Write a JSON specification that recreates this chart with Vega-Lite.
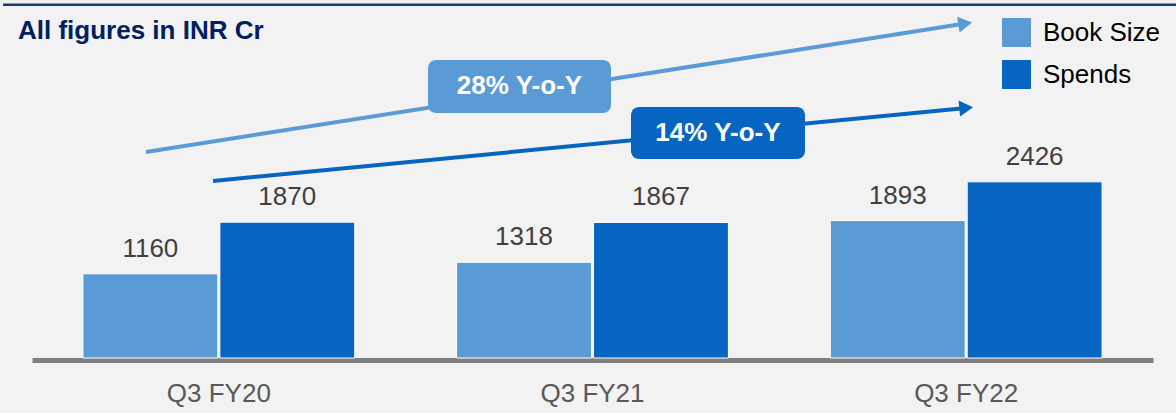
{
  "$schema": "https://vega.github.io/schema/vega-lite/v6.json",
  "width": 1121,
  "height": 358,
  "autosize": {"type": "none"},
  "padding": {"left": 32, "top": 0, "right": 23, "bottom": 55},
  "background": "#f2f2f2",
  "config": {"view": {"stroke": null}, "font": "Liberation Sans"},
  "datasets": {
    "bars": [
      {"quarter": "Q3 FY20", "series": "Book Size", "value": 1160},
      {"quarter": "Q3 FY20", "series": "Spends", "value": 1870},
      {"quarter": "Q3 FY21", "series": "Book Size", "value": 1318},
      {"quarter": "Q3 FY21", "series": "Spends", "value": 1867},
      {"quarter": "Q3 FY22", "series": "Book Size", "value": 1893},
      {"quarter": "Q3 FY22", "series": "Spends", "value": 2426}
    ],
    "arrows": [
      {"series": "Book Size", "pos": "start", "ax": 0.3051, "ay": 2837},
      {"series": "Book Size", "pos": "end", "ax": 2.4974, "ay": 4605},
      {"series": "Spends", "pos": "start", "ax": 0.4844, "ay": 2438},
      {"series": "Spends", "pos": "end", "ax": 2.5001, "ay": 3444}
    ],
    "boxes": [
      {"series": "Book Size", "label": "28% Y-o-Y", "x1": 1.0598, "x2": 1.5495, "y1": 3374, "y2": 4104, "cx": 1.3046, "cy": 3739},
      {"series": "Spends", "label": "14% Y-o-Y", "x1": 1.603, "x2": 2.0687, "y1": 2740, "y2": 3456, "cx": 1.8358, "cy": 3098}
    ],
    "notes": [
      {"label": "All figures in INR Cr", "ax": -0.0375, "ay": 4389, "rx1": -0.0776, "rx2": 3.0615, "ry": 4865}
    ]
  },
  "layer": [
    {
      "data": {"name": "bars"},
      "encoding": {
        "x": {
          "field": "quarter", "type": "nominal", "sort": null,
          "scale": {"paddingInner": 0, "paddingOuter": 0},
          "axis": {
            "title": null, "ticks": false, "labelAngle": 0,
            "domainColor": "#7f7f7f", "domainWidth": 5, "offset": 2,
            "labelPadding": 20, "labelFontSize": 26, "labelColor": "#595959",
            "labelFont": "Liberation Sans"
          }
        },
        "xOffset": {
          "field": "series", "type": "nominal", "sort": null,
          "scale": {"paddingInner": 0.015, "paddingOuter": 0.372}
        },
        "y": {
          "field": "value", "type": "quantitative",
          "scale": {"domain": [0, 4930], "nice": false},
          "axis": null
        },
        "color": {
          "field": "series", "type": "nominal",
          "scale": {"domain": ["Book Size", "Spends"], "range": ["#5b9bd5", "#0565c0"]},
          "legend": {
            "title": null, "orient": "none", "legendX": 970, "legendY": 18,
            "padding": 0, "symbolType": "square", "symbolSize": 784,
            "symbolStrokeColor": "white", "symbolStrokeWidth": 1, "symbolOpacity": 1,
            "labelFontSize": 26, "labelColor": "black", "labelFont": "Liberation Sans",
            "rowPadding": 9, "labelOffset": 12
          }
        }
      },
      "layer": [
        {"mark": {"type": "bar", "stroke": "white", "strokeWidth": 1}},
        {
          "mark": {"type": "text", "dy": -17, "baseline": "alphabetic", "fontSize": 26},
          "encoding": {
            "text": {"field": "value", "type": "quantitative", "format": "d"},
            "color": {"value": "#404040"}
          }
        }
      ]
    },
    {
      "layer": [
        {
          "data": {"name": "arrows"},
          "mark": {"type": "line", "strokeWidth": 4},
          "encoding": {
            "x": {"field": "ax", "type": "quantitative", "scale": {"domain": [0, 3], "nice": false, "zero": false}, "axis": null},
            "y": {"field": "ay", "type": "quantitative", "scale": {"domain": [0, 4930], "nice": false}, "axis": null},
            "color": {"field": "series", "type": "nominal", "legend": null}
          }
        },
        {
          "data": {"name": "arrows"},
          "transform": [{"filter": "datum.pos == 'end' && datum.series == 'Book Size'"}],
          "mark": {"type": "point", "shape": "triangle-right", "size": 256, "angle": -8.9, "filled": true, "opacity": 1},
          "encoding": {
            "x": {"field": "ax", "type": "quantitative", "scale": {"domain": [0, 3], "nice": false, "zero": false}, "axis": null},
            "y": {"field": "ay", "type": "quantitative", "scale": {"domain": [0, 4930], "nice": false}, "axis": null},
            "color": {"field": "series", "type": "nominal", "legend": null}
          }
        },
        {
          "data": {"name": "arrows"},
          "transform": [{"filter": "datum.pos == 'end' && datum.series == 'Spends'"}],
          "mark": {"type": "point", "shape": "triangle-right", "size": 256, "angle": -5.5, "filled": true, "opacity": 1},
          "encoding": {
            "x": {"field": "ax", "type": "quantitative", "scale": {"domain": [0, 3], "nice": false, "zero": false}, "axis": null},
            "y": {"field": "ay", "type": "quantitative", "scale": {"domain": [0, 4930], "nice": false}, "axis": null},
            "color": {"field": "series", "type": "nominal", "legend": null}
          }
        },
        {
          "data": {"name": "boxes"},
          "mark": {"type": "rect", "cornerRadius": 8},
          "encoding": {
            "x": {"field": "x1", "type": "quantitative", "scale": {"domain": [0, 3], "nice": false, "zero": false}, "axis": null},
            "x2": {"field": "x2"},
            "y": {"field": "y1", "type": "quantitative", "scale": {"domain": [0, 4930], "nice": false}, "axis": null},
            "y2": {"field": "y2"},
            "color": {"field": "series", "type": "nominal", "legend": null}
          }
        },
        {
          "data": {"name": "boxes"},
          "mark": {"type": "text", "fontSize": 26, "fontWeight": "bold", "color": "white", "baseline": "middle", "align": "center"},
          "encoding": {
            "x": {"field": "cx", "type": "quantitative", "scale": {"domain": [0, 3], "nice": false, "zero": false}, "axis": null},
            "y": {"field": "cy", "type": "quantitative", "scale": {"domain": [0, 4930], "nice": false}, "axis": null},
            "text": {"field": "label"}
          }
        },
        {
          "data": {"name": "notes"},
          "mark": {"type": "text", "fontSize": 26, "fontWeight": "bold", "color": "#002060", "baseline": "alphabetic", "align": "left"},
          "encoding": {
            "x": {"field": "ax", "type": "quantitative", "scale": {"domain": [0, 3], "nice": false, "zero": false}, "axis": null},
            "y": {"field": "ay", "type": "quantitative", "scale": {"domain": [0, 4930], "nice": false}, "axis": null},
            "text": {"field": "label"}
          }
        },
        {
          "data": {"name": "notes"},
          "mark": {"type": "rule", "strokeWidth": 2.5, "color": "#1f3b6e"},
          "encoding": {
            "x": {"field": "rx1", "type": "quantitative", "scale": {"domain": [0, 3], "nice": false, "zero": false}, "axis": null},
            "x2": {"field": "rx2"},
            "y": {"field": "ry", "type": "quantitative", "scale": {"domain": [0, 4930], "nice": false}, "axis": null}
          }
        }
      ]
    }
  ],
  "resolve": {"scale": {"x": "independent"}, "axis": {"x": "independent"}}
}
